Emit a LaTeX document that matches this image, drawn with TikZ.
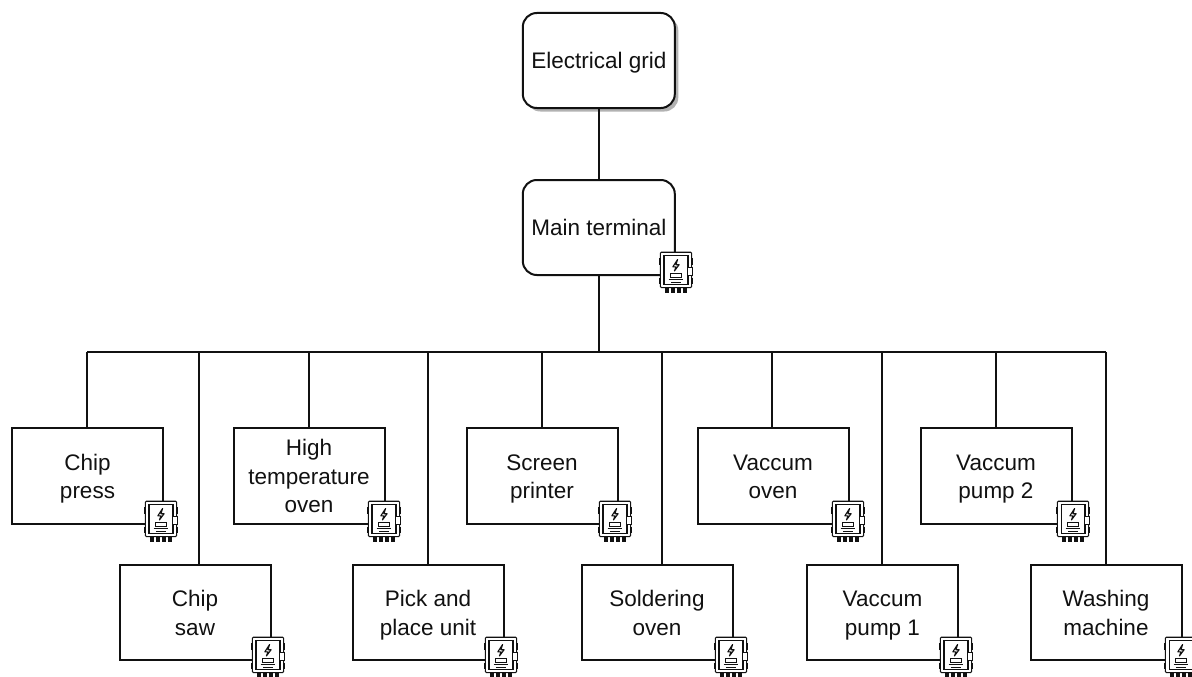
\documentclass[tikz,border=0pt]{standalone}
\usepackage{fontspec}
\setmainfont{Liberation Sans}
\usetikzlibrary{shadows}
\definecolor{inkc}{HTML}{111111}
\tikzset{
  x=1pt,y=-1pt,
  wire/.style={draw=inkc,line width=2pt},
  unitbox/.style={draw=inkc,line width=2pt,fill=white,minimum width=151pt,minimum height=95.5pt,inner sep=0pt,align=center,text=inkc,font=\fontsize{22.5}{28.5}\selectfont},
  topbox/.style={unitbox,rounded corners=14pt,minimum width=152pt,minimum height=95pt},
  panelicon/.pic={
    \begin{scope}[scale=1.04]
    \draw[inkc,line width=1.1pt,fill=white,rounded corners=1pt] (-15,-19) rectangle (15,15);
    \draw[inkc,line width=1.1pt,fill=white] (-11.5,-15.5) rectangle (11.5,12);
    \foreach \sx in {-16.5,14.5}\foreach \sy in {-13,6}
      \fill[inkc] (\sx,\sy) rectangle ++(2,6);
    \draw[inkc,line width=1pt,fill=white] (11,-4) rectangle (15.5,3);
    \draw[inkc,line width=1.1pt,line join=round] (1.5,-12) -- (-3,-5) -- (0,-5) -- (-1.5,-1) -- (3,-7) -- (0,-7) -- cycle;
    \draw[inkc,line width=1pt] (-5.5,1.5) rectangle (5.5,5.5);
    \draw[inkc,line width=1.1pt] (-7,7.5) -- (7,7.5) (-5,10) -- (5,10);
    \foreach \tx in {-9,-3,3,9}{
      \fill[inkc] (\tx-2,15) rectangle (\tx+2,20);
    }
    \end{scope}
  }
}
\newcommand{\tp}{\rule{0pt}{25pt}}
\newcommand{\bt}{\rule[-8.5pt]{0pt}{8.5pt}}
\begin{document}
\begin{tikzpicture}
\useasboundingbox (0,0) rectangle (1192,677);
\clip (0,0) rectangle (1192,677);
\fill[white] (0,0) rectangle (1192,677);
\node[topbox,drop shadow={shadow xshift=3.5pt,shadow yshift=-3.5pt,fill=black!50,opacity=.6}] (grid) at (598.8,60.5) {\tp Electrical grid\bt};
\node[topbox] (main) at (598.8,227.5) {\tp Main terminal\bt};
\coordinate (bus) at (598.8,352);
\foreach \cn/\cx in {c1/87,c2/199,c3/309,c4/428,c5/542,c6/662,c7/772,c8/882,c9/996,c10/1106}
  \coordinate (\cn) at (\cx,352);
\node[unitbox] (n1) at (87.5,476) {\tp Chip\\press\bt};
\node[unitbox] (n2) at (195,612.5) {\tp Chip\\saw\bt};
\node[unitbox] (n3) at (309,476) {\tp High\\temperature\\oven\bt};
\node[unitbox] (n4) at (428,612.5) {\tp Pick and\\place unit\bt};
\node[unitbox] (n5) at (542,476) {\tp Screen\\printer\bt};
\node[unitbox] (n6) at (657,612.5) {\tp Soldering\\oven\bt};
\node[unitbox] (n7) at (773,476) {\tp Vaccum\\oven\bt};
\node[unitbox] (n8) at (882.5,612.5) {\tp Vaccum\\pump 1\bt};
\node[unitbox] (n9) at (996,476) {\tp Vaccum\\pump 2\bt};
\node[unitbox] (n10) at (1106,612.5) {\tp Washing\\machine\bt};
\draw[wire] (grid) -- (main);
\draw[wire] (main) -- (bus);
\draw[wire] (c1) -- (c10);
\foreach \i in {1,...,10}
  \draw[wire] (c\i) -- (c\i |- n\i.north);
\foreach \ix/\iy in {676/272,161/521,268/657,384/521,501/657,615/521,731/657,848/521,956/657,1073/521,1181/657}
  \pic at (\ix,\iy) {panelicon};
\end{tikzpicture}
\end{document}
